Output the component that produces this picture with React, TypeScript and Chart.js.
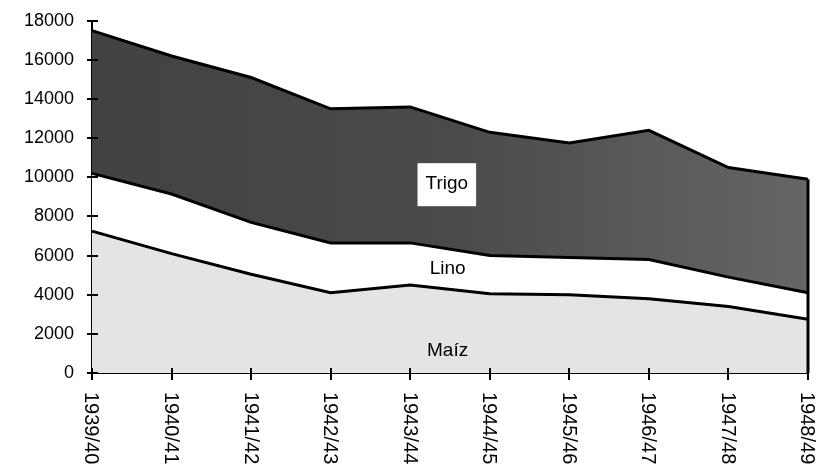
import React, { useEffect, useRef } from "react";
import { Chart, registerables } from "chart.js";

Chart.register(...registerables);

const categories = ["1939/40", "1940/41", "1941/42", "1942/43", "1943/44", "1944/45", "1945/46", "1946/47", "1947/48", "1948/49"];
const maiz = [7250, 6100, 5050, 4100, 4500, 4050, 4000, 3800, 3400, 2750];
const lino = [2950, 3050, 2650, 2550, 2150, 1950, 1900, 2000, 1500, 1350];
const trigo = [7300, 7050, 7400, 6850, 6950, 6300, 5850, 6600, 5600, 5800];
const yTicks = [0, 2000, 4000, 6000, 8000, 10000, 12000, 14000, 16000, 18000];

// area labels: [text, category position, value, boxed]
const areaLabels: [string, number, number, boolean][] = [
  ["Trigo", 4.46, 9650, true],
  ["Lino", 4.47, 5350, false],
  ["Maíz", 4.47, 1150, false],
];

const FONT = "Liberation Sans";

export default function App() {
  const ref = useRef<HTMLCanvasElement | null>(null);

  useEffect(() => {
    document.body.style.margin = "0";
    const canvas = ref.current!;

    const overlay = {
      id: "overlay",
      afterDraw(chart: any) {
        const ctx = chart.ctx;
        const x = chart.scales.x;
        const y = chart.scales.y;
        const area = chart.chartArea;
        ctx.save();
        ctx.strokeStyle = "#000";
        // right edge of the stacked areas
        const last = categories.length - 1;
        const total = maiz[last] + lino[last] + trigo[last];
        ctx.lineWidth = 3;
        ctx.beginPath();
        ctx.moveTo(x.getPixelForValue(last), y.getPixelForValue(0));
        ctx.lineTo(x.getPixelForValue(last), y.getPixelForValue(total));
        ctx.stroke();
        // crossing tick marks
        ctx.lineWidth = 2;
        for (const v of yTicks) {
          const py = Math.round(y.getPixelForValue(v));
          ctx.beginPath();
          ctx.moveTo(area.left - 5, py);
          ctx.lineTo(area.left + 6, py);
          ctx.stroke();
        }
        categories.forEach((_, i) => {
          const px = Math.round(x.getPixelForValue(i));
          ctx.beginPath();
          ctx.moveTo(px, area.bottom - 5);
          ctx.lineTo(px, area.bottom + 7);
          ctx.stroke();
        });
        // rotated category labels
        ctx.fillStyle = "#000";
        ctx.font = `20px "${FONT}"`;
        categories.forEach((c, i) => {
          const px = x.getPixelForValue(i);
          ctx.save();
          ctx.translate(px - 1, area.bottom + 19);
          ctx.rotate(Math.PI / 2);
          ctx.textAlign = "left";
          ctx.textBaseline = "middle";
          ctx.fillText(c, 0, 0);
          ctx.restore();
        });
        // area labels
        ctx.font = `19px "${FONT}"`;
        for (const [t, ci, v, boxed] of areaLabels) {
          const px = x.getPixelForValue(ci);
          const py = y.getPixelForValue(v);
          ctx.textAlign = "center";
          ctx.textBaseline = "middle";
          if (boxed) {
            const w = ctx.measureText(t).width + 16;
            ctx.fillStyle = "#fff";
            ctx.fillRect(px - w / 2, py - 21, w, 43);
          }
          ctx.fillStyle = "#000";
          ctx.fillText(t, px, py);
        }
        ctx.restore();
      },
    };

    const trigoFill = (c: any) => {
      const a = c.chart.chartArea;
      if (!a) return "#555";
      const g = c.chart.ctx.createLinearGradient(a.left, 0, a.right, 0);
      g.addColorStop(0, "#424242");
      g.addColorStop(0.5, "#4a4a4a");
      g.addColorStop(1, "#666666");
      return g;
    };

    const chart = new Chart(canvas, {
      type: "line",
      data: {
        labels: categories,
        datasets: [
          { label: "Maíz", data: maiz, fill: "origin", backgroundColor: "#e4e4e4", borderColor: "#000", borderWidth: 3, pointRadius: 0, tension: 0 },
          { label: "Lino", data: lino, fill: "-1", backgroundColor: "#ffffff", borderColor: "#000", borderWidth: 3, pointRadius: 0, tension: 0 },
          { label: "Trigo", data: trigo, fill: "-1", backgroundColor: trigoFill, borderColor: "#000", borderWidth: 3, pointRadius: 0, tension: 0 },
        ],
      },
      options: {
        animation: false,
        responsive: false,
        maintainAspectRatio: false,
        layout: { padding: { left: 0, top: 20, right: 17, bottom: 97 } },
        plugins: {
          legend: { display: false },
          tooltip: { enabled: false },
          filler: { drawTime: "beforeDatasetsDraw" },
        },
        scales: {
          x: {
            type: "category",
            offset: false,
            grid: { display: false },
            border: { display: true, color: "#000", width: 2 },
            ticks: { display: false },
            afterFit: (s: any) => { s.height = 0; },
          },
          y: {
            stacked: true,
            min: 0,
            max: 18000,
            grid: { display: false },
            border: { display: true, color: "#000", width: 2 },
            afterFit: (s: any) => { s.width = 92; },
            afterBuildTicks: (s: any) => { s.ticks = yTicks.map((v) => ({ value: v })); },
            ticks: {
              color: "#000",
              padding: 10,
              font: { family: FONT, size: 18 },
              callback: (v: any) => String(v),
            },
          },
        },
      },
      plugins: [overlay],
    });
    return () => chart.destroy();
  }, []);

  return (
    <div style={{ width: 825, height: 470, background: "#fff" }}>
      <canvas ref={ref} width={825} height={470} style={{ display: "block" }} />
    </div>
  );
}
